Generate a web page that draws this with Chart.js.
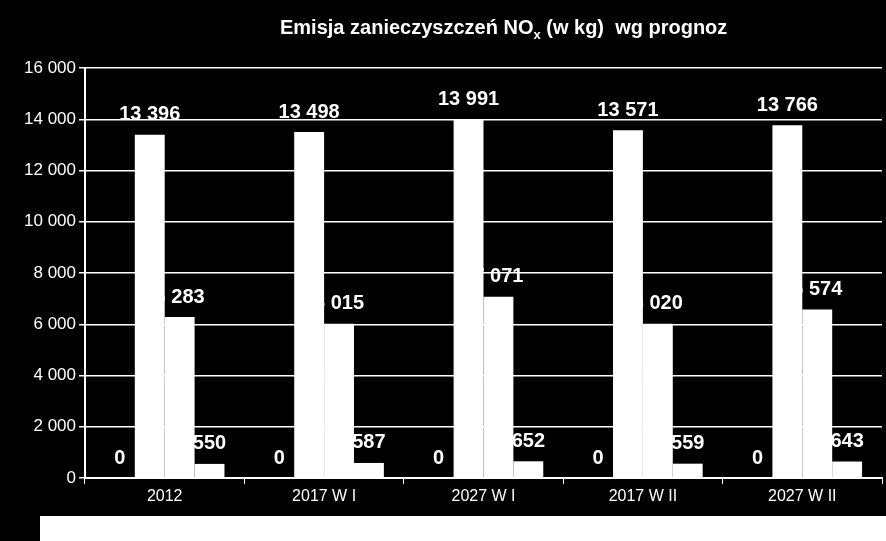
<!DOCTYPE html>
<html><head><meta charset="utf-8">
<script src="https://cdn.jsdelivr.net/npm/chart.js@4"></script>
<style>
body{margin:0;background:#000;}
#wrap{position:relative;width:886px;height:541px;background:#000;}
#title{position:absolute;left:280px;top:16px;color:#fff;font:bold 20px "Liberation Sans",Arial,sans-serif;white-space:pre;}
#title sub{font-size:13px;}
#legendBox{position:absolute;left:40px;top:516px;width:846px;height:25px;background:#fff;}
</style></head>
<body>
<div id="wrap">
  <canvas id="chart" width="886" height="541"></canvas>
  <div id="title">Emisja zanieczyszczeń NO<sub>x</sub> (w kg)  wg prognoz</div>
  <div id="legendBox"></div>
</div>
<script>
// dane z wykresu
const kategorie = ['2012', '2017 W I', '2027 W I', '2017 W II', '2027 W II'];
const seria1 = [0, 0, 0, 0, 0];
const seria2 = [13396, 13498, 13991, 13571, 13766];
const seria3 = [6283, 6015, 7071, 6020, 6574];
const seria4 = [550, 587, 652, 559, 643];

const fmt = v => String(v).replace(/\B(?=(\d{3})+(?!\d))/g, ' ');

// etykiety wartości nad słupkami
const etykiety = {
  id: 'etykiety',
  afterDatasetsDraw(chart) {
    const ctx = chart.ctx;
    ctx.save();
    ctx.fillStyle = '#fff';
    ctx.font = 'bold 20px "Liberation Sans", Arial, sans-serif';
    ctx.textAlign = 'center';
    ctx.textBaseline = 'bottom';
    chart.data.datasets.forEach((ds, i) => {
      chart.getDatasetMeta(i).data.forEach((bar, j) => {
        ctx.fillText(fmt(ds.data[j]), bar.x, bar.y - 10);
      });
    });
    ctx.restore();
  }
};

const ds = (d) => ({ data: d, backgroundColor: '#fff', borderWidth: 0, barPercentage: 1, categoryPercentage: 0.75 });

new Chart(document.getElementById('chart'), {
  type: 'bar',
  data: { labels: kategorie, datasets: [ds(seria1), ds(seria2), ds(seria3), ds(seria4)] },
  options: {
    responsive: false,
    animation: false,
    layout: { padding: { top: 68, right: 4, bottom: 30, left: 0 } },
    plugins: { legend: { display: false }, tooltip: { enabled: false } },
    scales: {
      x: {
        afterFit: s => { s.height = 33; },
        grid: { color: '#fff', drawOnChartArea: false, tickLength: 6, offset: true },
        border: { color: '#fff', width: 2 },
        ticks: { color: '#fff', font: { family: '"Liberation Sans", Arial', size: 16 } }
      },
      y: {
        min: 0, max: 16000,
        afterFit: s => { s.width = 85; },
        grid: { color: '#fff', lineWidth: 1.5, tickLength: 6 },
        border: { color: '#fff', width: 2 },
        ticks: { stepSize: 2000, color: '#fff', callback: v => fmt(v), font: { family: '"Liberation Sans", Arial', size: 17 } }
      }
    }
  },
  plugins: [etykiety]
});
</script>
</body></html>
